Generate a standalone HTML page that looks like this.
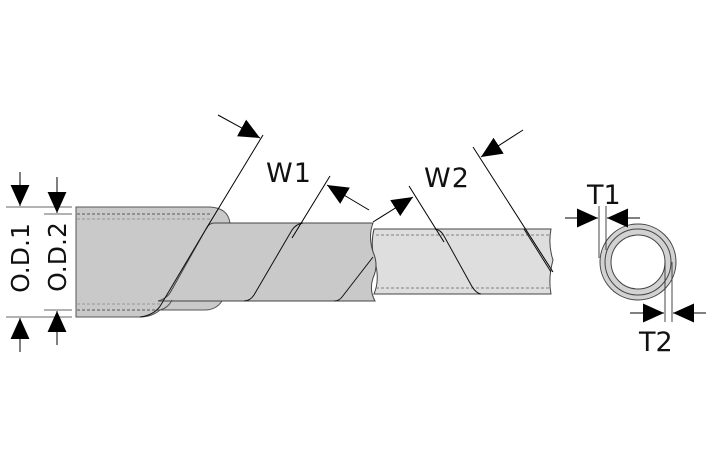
<!DOCTYPE html>
<html><head><style>html,body{margin:0;padding:0;background:#fff}svg{display:block}</style></head>
<body>
<svg width="709" height="472" viewBox="0 0 709 472" xmlns="http://www.w3.org/2000/svg" font-family="DejaVu Sans, Liberation Sans, sans-serif">
<defs>
<marker id="ah" viewBox="0 0 10 10" refX="10" refY="5" markerWidth="21" markerHeight="21" markerUnits="userSpaceOnUse" orient="auto"><path d="M0,0.5 L10,5 L0,9.5 Z" fill="#000"/></marker>
</defs>
<!-- right light tube -->
<path d="M374,229 H551 Q548,245 553,260 Q548,278 551,294 H374 Q380,280 375,262 Q370,245 374,229 Z" fill="#dedede" stroke="#444" stroke-width="1"/>
<line x1="376" y1="235" x2="551" y2="235" stroke="#666" stroke-dasharray="3,2" stroke-width="0.8"/>
<line x1="376" y1="288" x2="551" y2="288" stroke="#666" stroke-dasharray="3,2" stroke-width="0.8"/>
<!-- thick sleeve -->
<path d="M76,207 H210 Q228,208 230,223 L222,301 Q216,310 205,310 L160,310 Q152,317 140,317 H76 Z" fill="#c9c9c9" stroke="#555" stroke-width="1"/>
<line x1="77" y1="214" x2="212" y2="214" stroke="#333" stroke-dasharray="3,2" stroke-width="0.8"/>
<line x1="77" y1="219" x2="212" y2="219" stroke="#888" stroke-dasharray="3,2" stroke-width="0.8"/>
<line x1="77" y1="304" x2="160" y2="304" stroke="#888" stroke-dasharray="3,2" stroke-width="0.8"/>
<line x1="77" y1="310" x2="160" y2="310" stroke="#333" stroke-dasharray="3,2" stroke-width="0.8"/>
<!-- narrow spiral body -->
<path d="M214,223 H373 Q368,236 373,252 Q379,265 373,278 Q369,290 375,301 H158 Q166,299 170,293 L206,229 Q209,223 214,223 Z" fill="#c9c9c9" stroke="#444" stroke-width="1"/>
<path d="M160,310 Q168,308 172,300" fill="none" stroke="#555"/>
<!-- spiral edges -->
<path d="M206,229 L162,303 Q156,315 140,317" fill="none" stroke="#111" stroke-width="1"/>
<path d="M303,223 Q296,224 292,230 L254,295 Q250,301 244,301" fill="none" stroke="#111" stroke-width="1"/>
<path d="M373,257 L342,297 Q339,301 334,301" fill="none" stroke="#111" stroke-width="1"/>
<path d="M435,229 Q441,230 444,236 L470,283 Q475,293 481,294" fill="none" stroke="#111" stroke-width="1"/>
<path d="M524,229 L551,272" fill="none" stroke="#111" stroke-width="1"/>
<!-- W lines -->
<line x1="263" y1="135" x2="206" y2="229" stroke="#000" stroke-width="1"/>
<line x1="330" y1="176" x2="292" y2="238" stroke="#000" stroke-width="1"/>
<line x1="409" y1="186" x2="444" y2="242" stroke="#000" stroke-width="1"/>
<line x1="473" y1="147" x2="553" y2="272" stroke="#000" stroke-width="1"/>
<line x1="218" y1="115" x2="260" y2="138" stroke="#000" marker-end="url(#ah)"/>
<line x1="369" y1="210" x2="327" y2="185" stroke="#000" marker-end="url(#ah)"/>
<line x1="373" y1="222" x2="413" y2="197" stroke="#000" marker-end="url(#ah)"/>
<line x1="523" y1="130" x2="481" y2="157" stroke="#000" marker-end="url(#ah)"/>
<text x="266" y="182" font-size="27" fill="#111" letter-spacing="1">W1</text>
<text x="424" y="187" font-size="27" fill="#111" letter-spacing="1">W2</text>
<!-- OD -->
<g stroke="#666" stroke-width="1">
<line x1="6" y1="207" x2="72" y2="207"/><line x1="44" y1="214" x2="72" y2="214"/>
<line x1="6" y1="317" x2="72" y2="317"/><line x1="44" y1="310" x2="72" y2="310"/>
</g>
<line x1="20" y1="172" x2="20" y2="206" stroke="#000" marker-end="url(#ah)"/>
<line x1="20" y1="352" x2="20" y2="318" stroke="#000" marker-end="url(#ah)"/>
<line x1="57" y1="177" x2="57" y2="213" stroke="#000" marker-end="url(#ah)"/>
<line x1="57" y1="345" x2="57" y2="311" stroke="#000" marker-end="url(#ah)"/>
<text transform="translate(29,258) rotate(-90)" text-anchor="middle" font-size="25" fill="#111">O.D.1</text>
<text transform="translate(66,257) rotate(-90)" text-anchor="middle" font-size="25" fill="#111">O.D.2</text>
<!-- ring -->
<circle cx="638" cy="262" r="38" fill="#d2d2d2" stroke="#444" stroke-width="1"/>
<circle cx="638" cy="262" r="33" fill="none" stroke="#444" stroke-width="1"/>
<circle cx="638" cy="262" r="27" fill="#fff" stroke="#444" stroke-width="1"/>
<g stroke="#333" stroke-width="0.9">
<line x1="599" y1="206" x2="599" y2="258"/><line x1="606" y1="206" x2="606" y2="250"/>
<line x1="665" y1="262" x2="665" y2="322"/><line x1="672" y1="262" x2="672" y2="322"/>
</g>
<line x1="565" y1="218" x2="598" y2="218" stroke="#000" marker-end="url(#ah)"/>
<line x1="640" y1="218" x2="607" y2="218" stroke="#000" marker-end="url(#ah)"/>
<line x1="630" y1="313" x2="664" y2="313" stroke="#000" marker-end="url(#ah)"/>
<line x1="706" y1="313" x2="673" y2="313" stroke="#000" marker-end="url(#ah)"/>
<text x="587" y="204" font-size="27" fill="#111">T1</text>
<text x="639" y="351" font-size="27" fill="#111">T2</text>
</svg>
</body></html>
